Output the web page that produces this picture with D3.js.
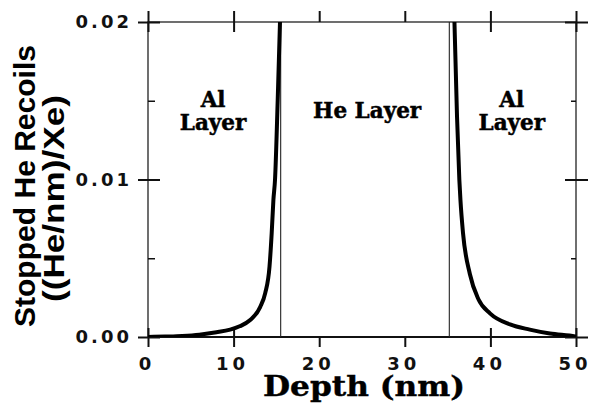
<!DOCTYPE html>
<html>
<head>
<meta charset="utf-8">
<script src="https://cdn.jsdelivr.net/npm/d3@7"></script>
<style>
  html, body { margin: 0; padding: 0; background: #fff; }
  svg { display: block; }
</style>
</head>
<body>
<svg id="chart" width="591" height="411"></svg>
<script>
// ---- data ----
const xTicks = [0, 10, 20, 30, 40, 50];
const xInnerTicks = [0, 10, 40, 50];
const yMajorTicks = [0, 0.01, 0.02];
const yMinorTicks = [0.005, 0.015];
const xLabel = "Depth (nm)";
const yLabelLines = ["Stopped He Recoils", "((He/nm)/Xe)"];

// left Al layer curve (depth nm, stopped He recoils)
const leftDepth = [0, 2, 4, 6, 8, 9.6, 10.7, 11.9, 13.1, 13.7, 14.2, 14.45, 14.65, 14.84, 15.15, 15.42];
const leftValue = [0, 0.00003, 0.00007, 0.00015, 0.0003, 0.00047, 0.00068, 0.00106, 0.0019, 0.0028, 0.0045, 0.0066, 0.0087, 0.0100, 0.0150, 0.0200];
// right Al layer curve
const rightDepth = [35.8, 36.1, 36.37, 36.5, 36.8, 37.6, 38.6, 39.95, 42.3, 44.6, 46.96, 49.9, 50];
const rightValue = [0.0200, 0.0140, 0.0100, 0.0087, 0.0066, 0.0040, 0.0024, 0.0015, 0.0008, 0.00047, 0.00022, 0.00004, 0.00003];
// layer boundaries (nm)
const boundaries = [15.5, 35.2];
// region labels
const regionLabels = [
  { x: 7.6, lines: ["Al", "Layer"] },
  { x: 25.6, lines: ["He Layer"] },
  { x: 42.5, lines: ["Al", "Layer"] }
];

// ---- layout ----
const L = 148, R = 576, T = 22, B = 337;
const svg = d3.select("#chart");
const x = d3.scaleLinear().domain([0, 50]).range([L, R]);
const y = d3.scaleLinear().domain([0, 0.02]).range([B, T]);

const tickStroke = 2;
function styleAxis(g, w) {
  g.selectAll(".domain").remove();
  g.selectAll(".tick line").attr("stroke", "#111").attr("stroke-width", w || tickStroke);
}

// frame
svg.append("rect").attr("x", L).attr("y", T).attr("width", R - L).attr("height", B - T)
  .attr("fill", "none").attr("stroke", "#222").attr("stroke-width", 1.3);
svg.append("line").attr("x1", L).attr("x2", R).attr("y1", B).attr("y2", B)
  .attr("stroke", "#111").attr("stroke-width", 2);

// bottom axis (outward + labels)
const gB = svg.append("g").attr("transform", `translate(0,${B})`)
  .call(d3.axisBottom(x).tickValues(xTicks).tickSize(10).tickPadding(10).tickFormat(d3.format("d")));
styleAxis(gB);
gB.selectAll("text").attr("font-family", "DejaVu Sans").attr("font-weight", "bold")
  .attr("font-size", 18).attr("letter-spacing", 4).attr("fill", "#111")
  .attr("dy", "0.72em").attr("dx", -1.5);
// bottom inner ticks
const gBi = svg.append("g").attr("transform", `translate(0,${B})`)
  .call(d3.axisTop(x).tickValues(xInnerTicks).tickSize(9).tickFormat(""));
styleAxis(gBi);

// top axis
const gT = svg.append("g").attr("transform", `translate(0,${T})`)
  .call(d3.axisTop(x).tickValues(xTicks).tickSize(11).tickFormat(""));
styleAxis(gT);
const gTi = svg.append("g").attr("transform", `translate(0,${T})`)
  .call(d3.axisBottom(x).tickValues(xInnerTicks).tickSize(10).tickFormat(""));
styleAxis(gTi);

// left axis
const gL = svg.append("g").attr("transform", `translate(${L},0)`)
  .call(d3.axisLeft(y).tickValues(yMajorTicks).tickSize(10).tickPadding(8).tickFormat(d3.format(".2f")));
styleAxis(gL);
gL.selectAll("text").attr("font-family", "DejaVu Sans").attr("font-weight", "bold")
  .attr("font-size", 18).attr("letter-spacing", 3).attr("fill", "#111").attr("dx", "2");
const gLi = svg.append("g").attr("transform", `translate(${L},0)`)
  .call(d3.axisRight(y).tickValues(yMajorTicks).tickSize(12).tickFormat(""));
styleAxis(gLi);
const gLm = svg.append("g").attr("transform", `translate(${L},0)`)
  .call(d3.axisRight(y).tickValues(yMinorTicks).tickSize(7).tickFormat(""));
styleAxis(gLm, 1.5);

// right axis
const gR = svg.append("g").attr("transform", `translate(${R},0)`)
  .call(d3.axisRight(y).tickValues(yMajorTicks).tickSize(12).tickFormat(""));
styleAxis(gR);
const gRi = svg.append("g").attr("transform", `translate(${R},0)`)
  .call(d3.axisLeft(y).tickValues(yMajorTicks).tickSize(11).tickFormat(""));
styleAxis(gRi);
const gRm = svg.append("g").attr("transform", `translate(${R},0)`)
  .call(d3.axisLeft(y).tickValues(yMinorTicks).tickSize(5).tickFormat(""));
styleAxis(gRm, 1.5);

// clip
svg.append("clipPath").attr("id", "plotclip").append("rect")
  .attr("x", L).attr("y", T).attr("width", R - L).attr("height", B - T);

// boundaries
svg.append("g").selectAll("line").data(boundaries).join("line")
  .attr("x1", d => x(d)).attr("x2", d => x(d)).attr("y1", T).attr("y2", B)
  .attr("stroke", "#222").attr("stroke-width", 1.1);

// curves
const line = d3.line().x(d => x(d[0])).y(d => y(d[1])).curve(d3.curveMonotoneX);
const leftData = leftDepth.map((d, i) => [d, leftValue[i]]);
const rightData = rightDepth.map((d, i) => [d, rightValue[i]]);
const gC = svg.append("g").attr("clip-path", "url(#plotclip)");
[leftData, rightData].forEach(data => {
  gC.append("path").datum(data).attr("d", line)
    .attr("fill", "none").attr("stroke", "#000").attr("stroke-width", 4)
    .attr("stroke-linejoin", "round").attr("stroke-linecap", "round");
});

// region labels
regionLabels.forEach(r => {
  const t = svg.append("text").attr("text-anchor", "middle")
    .attr("font-family", "DejaVu Serif").attr("font-weight", "bold")
    .attr("font-size", 21.5).attr("fill", "#000")
    .attr("stroke", "#000").attr("stroke-width", 0.5);
  if (r.lines.length === 2) {
    t.append("tspan").attr("x", x(r.x)).attr("y", 107).text(r.lines[0]);
    t.append("tspan").attr("x", x(r.x)).attr("y", 130).text(r.lines[1]);
  } else {
    t.append("tspan").attr("x", x(r.x)).attr("y", 118).text(r.lines[0]);
  }
});

// x title
svg.append("text").attr("x", 364).attr("y", 396).attr("text-anchor", "middle")
  .attr("font-family", "DejaVu Serif").attr("font-weight", "bold").attr("font-size", 27)
  .attr("textLength", 202).attr("lengthAdjust", "spacingAndGlyphs")
  .attr("stroke", "#000").attr("stroke-width", 0.4)
  .attr("fill", "#000").text(xLabel);

// y title
svg.append("text").attr("transform", "translate(35,186) rotate(-90)").attr("text-anchor", "middle")
  .attr("font-family", "Liberation Sans").attr("font-weight", "bold").attr("font-size", 30)
  .attr("textLength", 282).attr("lengthAdjust", "spacingAndGlyphs")
  .attr("fill", "#000").text(yLabelLines[0]);
svg.append("text").attr("transform", "translate(64,198.5) rotate(-90)").attr("text-anchor", "middle")
  .attr("font-family", "Liberation Sans").attr("font-weight", "bold").attr("font-size", 29)
  .attr("textLength", 207).attr("lengthAdjust", "spacingAndGlyphs")
  .attr("fill", "#000").text(yLabelLines[1]);
</script>
</body>
</html>
